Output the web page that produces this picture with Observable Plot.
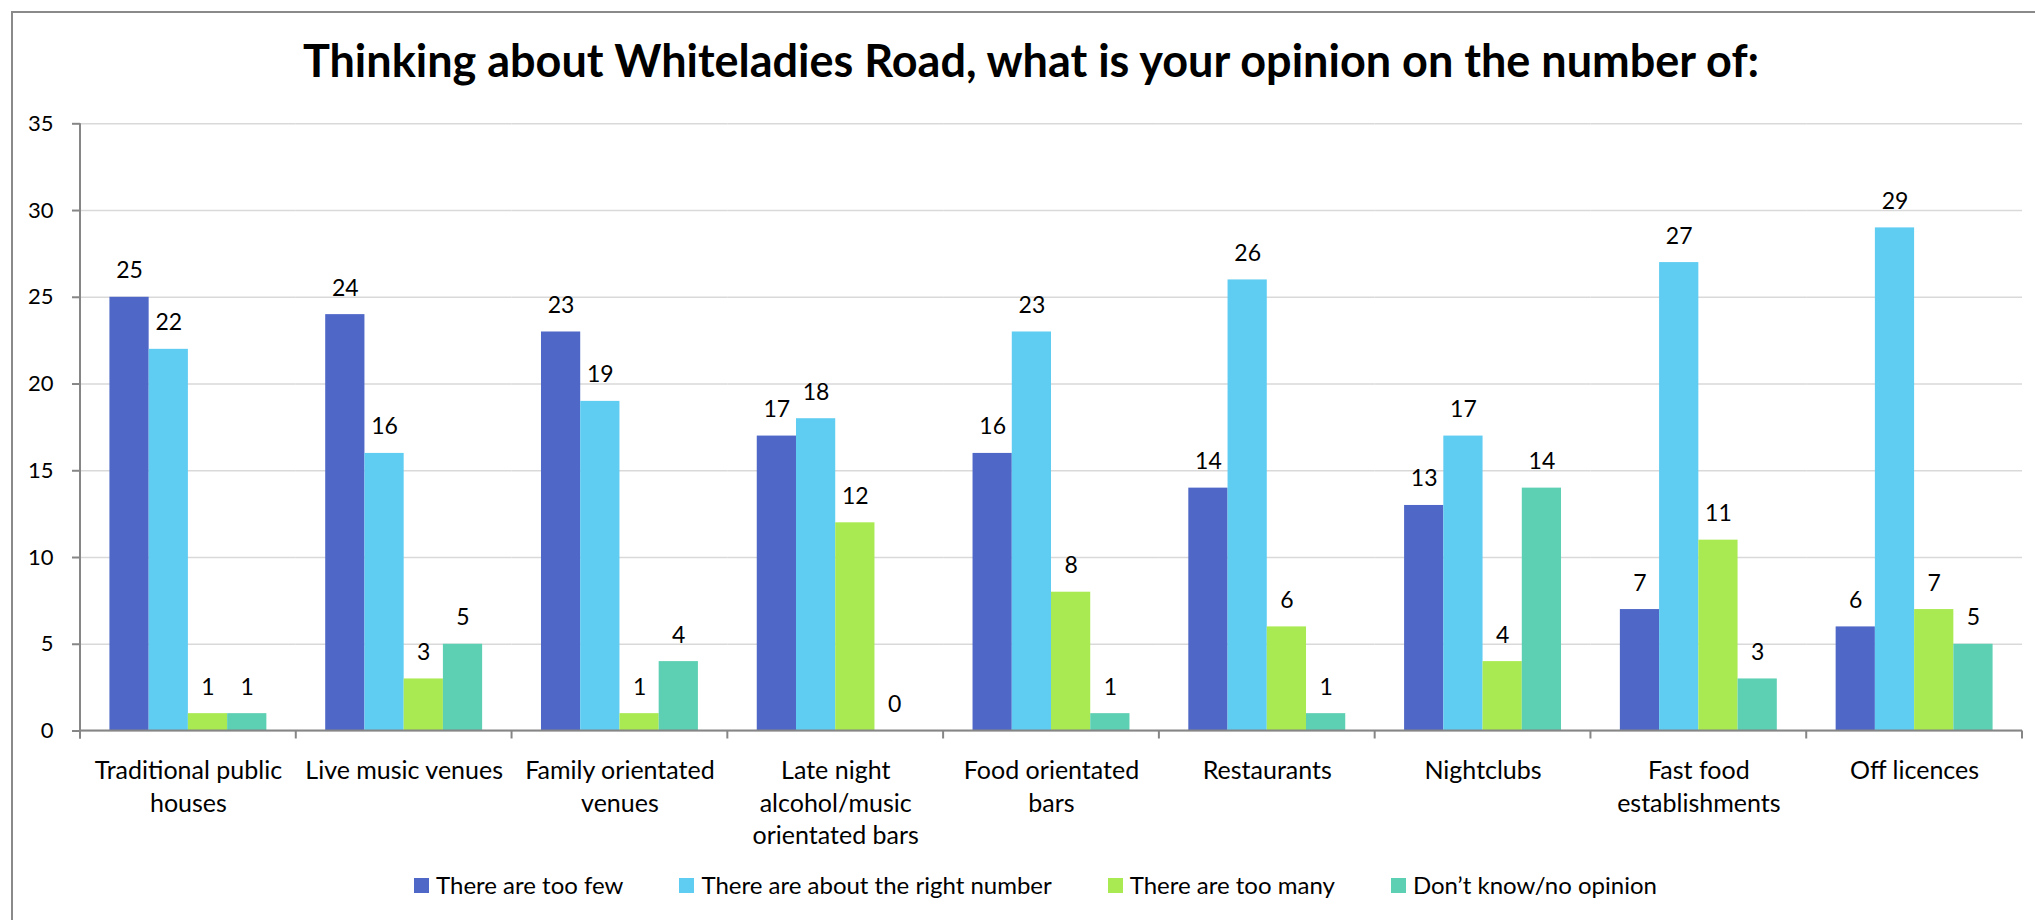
<!DOCTYPE html>
<html>
<head>
<meta charset="utf-8">
<script src="https://cdn.jsdelivr.net/npm/d3@7"></script>
<script src="https://cdn.jsdelivr.net/npm/@observablehq/plot@0.6"></script>
<style>
html, body { margin: 0; padding: 0; background: #fff; overflow: hidden; width: 2035px; height: 920px; }
#wrap { position: relative; width: 2035px; height: 920px; font-family: Lato, sans-serif; }
#border { position: absolute; left: 11px; top: 11px; width: 3000px; height: 3000px; border-left: 2px solid #8a8a8a; border-top: 2px solid #8a8a8a; pointer-events: none; }
#title { height: 100px; box-sizing: border-box; padding-top: 33px; padding-left: 27px; text-align: center; font: bold 45px/1.2 Lato, sans-serif; color: #000; white-space: nowrap; }
#chart svg { display: block; }
#legend { padding-top: 9px; padding-left: 36px; }
#legend .lg-swatches { font-family: Lato, sans-serif; font-size: 24px; line-height: 1.2; color: #000; justify-content: center; margin: 0; }
#legend .lg-swatch { margin-right: 56px; }
#legend .lg-swatch:last-child { margin-right: 0; }
#legend .lg-swatch > svg { margin-right: 7px; }
</style>
</head>
<body>
<div id="wrap">
  <div id="border"></div>
  <div id="title">Thinking about Whiteladies Road, what is your opinion on the number of:</div>
  <div id="chart"></div>
  <div id="legend"></div>
</div>
<script>
const categories = [
  "Traditional public houses",
  "Live music venues",
  "Family orientated venues",
  "Late night alcohol/music orientated bars",
  "Food orientated bars",
  "Restaurants",
  "Nightclubs",
  "Fast food establishments",
  "Off licences"
];
const tickLabels = [
  "Traditional public\nhouses",
  "Live music venues",
  "Family orientated\nvenues",
  "Late night\nalcohol/music\norientated bars",
  "Food orientated\nbars",
  "Restaurants",
  "Nightclubs",
  "Fast food\nestablishments",
  "Off licences"
];
const series = [
  "There are too few",
  "There are about the right number",
  "There are too many",
  "Don\u2019t know/no opinion"
];
const tooFew      = [25, 24, 23, 17, 16, 14, 13, 7, 6];
const rightNumber = [22, 16, 19, 18, 23, 26, 17, 27, 29];
const tooMany     = [1, 3, 1, 12, 8, 6, 4, 11, 7];
const dontKnow    = [1, 5, 4, 0, 1, 1, 14, 3, 5];
const yTicks = [0, 5, 10, 15, 20, 25, 30, 35];
const colors = ["#4F67C7", "#5FCCF2", "#A9EA52", "#5DCFB2"];

const axisGrey = "#868686";
const gridGrey = "#D9D9D9";

const valuesBySeries = [tooFew, rightNumber, tooMany, dontKnow];
const rows = categories.flatMap((c, i) => series.map((s, j) => ({category: c, series: s, value: valuesBySeries[j][i]})));
const labelOf = new Map(categories.map((c, i) => [c, tickLabels[i]]));

class AxisFrame extends Plot.Mark {
  constructor() { super(undefined, {}, {facet: "super"}); }
  render(index, scales, values, dimensions) {
    const {fx, y} = scales;
    const dom = fx.domain();
    const xs = dom.map(d => fx(d));
    xs.push(fx(dom[dom.length - 1]) + fx.bandwidth());
    const y0 = y(0);
    const yTop = y(y.domain()[1]);
    const tick = 8;
    const g = d3.create("svg:g").attr("stroke", axisGrey).attr("stroke-width", 2).attr("fill", "none");
    g.append("line").attr("x1", xs[0]).attr("x2", xs[xs.length - 1]).attr("y1", y0).attr("y2", y0);
    g.append("line").attr("x1", xs[0]).attr("x2", xs[0]).attr("y1", yTop).attr("y2", y0 + tick);
    for (const x of xs) g.append("line").attr("x1", x).attr("x2", x).attr("y1", y0).attr("y2", y0 + tick);
    return g.node();
  }
}

const chart = Plot.plot({
  width: 2035,
  height: 760,
  marginTop: 23.3,
  marginBottom: 129.5,
  marginLeft: 80,
  marginRight: 13,
  style: {fontFamily: "Lato, sans-serif", background: "transparent", overflow: "visible", color: "#000"},
  fx: {domain: categories, padding: 0, round: false, label: null},
  x: {domain: series, paddingInner: 0, paddingOuter: 0.75, round: false, axis: null},
  y: {domain: [0, 35], label: null},
  color: {domain: series, range: colors},
  marks: [
    Plot.gridY(yTicks, {stroke: gridGrey, strokeOpacity: 1, strokeWidth: 1.5}),
    Plot.barY(rows, {fx: "category", x: "series", y: "value", fill: "series"}),
    Plot.text(rows, {fx: "category", x: "series", y: "value", text: d => String(d.value), lineAnchor: "bottom", dy: -19, fontSize: 23, fill: "#000"}),
    Plot.axisY(yTicks, {tickSize: 8, tickPadding: 19, fontSize: 22, stroke: axisGrey, strokeWidth: 2, strokeOpacity: 1, fill: "#000", label: null}),
    Plot.axisFx({anchor: "bottom", tickSize: 0, tickPadding: 25, fontSize: 25, lineHeight: 1.3, tickFormat: d => labelOf.get(d), label: null, fill: "#000"}),
    new AxisFrame()
  ]
});
document.getElementById("chart").appendChild(chart);

const legend = Plot.legend({
  color: {type: "ordinal", domain: series, range: colors},
  legend: "swatches",
  swatchWidth: 15,
  swatchHeight: 15,
  className: "lg"
});
document.getElementById("legend").appendChild(legend);
</script>
</body>
</html>
